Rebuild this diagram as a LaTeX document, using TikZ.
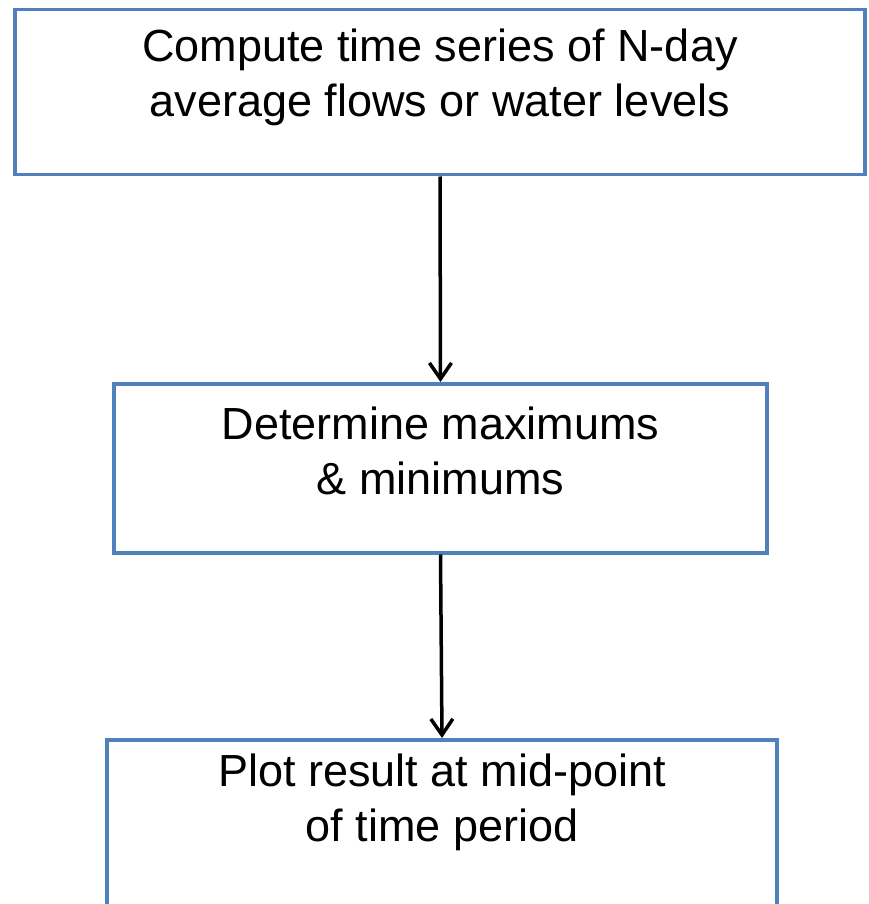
\documentclass[tikz,border=0pt]{standalone}
\usepackage{fontspec}
\setmainfont{Liberation Sans}
\usetikzlibrary{arrows.meta}
\definecolor{boxblue}{HTML}{4F81BD}
\tikzset{
    stepbox/.style={draw=boxblue, line width=3.5pt, align=center, inner sep=0pt,
        font=\fontsize{45}{55}\selectfont, anchor=north},
    flow/.style={line width=3.5pt, -{Straight Barb[length=16pt,width=22pt]}}
}
\begin{document}
\begin{tikzpicture}[x=1pt, y=-1pt]
            \useasboundingbox (0, 0) rectangle (868, 904);

            % Rutorna
            \node[stepbox, minimum width=850pt, text height=107pt, text depth=58pt] (compute) at (440, 8)
                {Compute time series of N-day\\average flows or water levels};
            \node[stepbox, minimum width=653pt, text height=111pt, text depth=58pt] (extremes) at (440.5, 382)
                {Determine maximums\\ \& minimums};
            \node[stepbox, minimum width=670pt, text height=102pt, text depth=80pt] (plot) at (442, 738)
                {Plot result at mid-point\\of time period};

            % Pilarna
            \foreach \a/\b in {compute/extremes, extremes/plot} {
                    \draw[flow] (\a.south) -- (\b.north);
                }
        \end{tikzpicture}
\end{document}
